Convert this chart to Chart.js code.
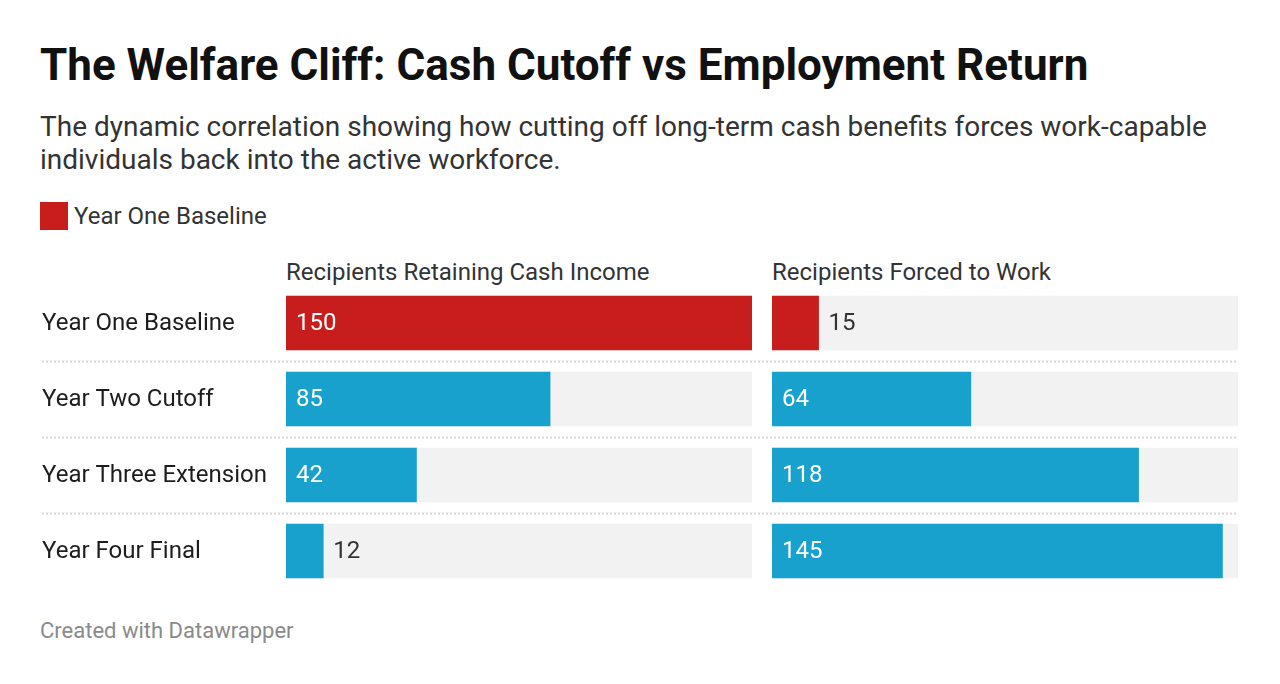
<!DOCTYPE html>
<html>
<head>
<meta charset="utf-8">
<script src="https://cdn.jsdelivr.net/npm/chart.js@4/dist/chart.umd.min.js"></script>
<style>
  body { margin: 0; background: #fff; font-family: Roboto, sans-serif; color: #1d1d1d; }
  .abs { position: absolute; white-space: nowrap; }
  #title { left: 40px; top: 40px; font-size: 44px; font-weight: 700; line-height: 50px; color: #111; }
  #subtitle { left: 40px; top: 110px; width: 1200px; font-size: 28px; line-height: 33px; color: #333; white-space: normal; }
  #legend { left: 40px; top: 202px; font-size: 24px; line-height: 28px; color: #333; }
  #legend span.sw { display: inline-block; width: 28px; height: 28px; background: #c71e1d; vertical-align: top; margin-right: 6px; }
  .ptitle { top: 258px; font-size: 24px; line-height: 28px; color: #333; }
  #footer { left: 40px; top: 618px; font-size: 22px; line-height: 26px; color: #8a8a8a; }
  canvas { position: absolute; }
</style>
</head>
<body>
<div id="title" class="abs">The Welfare Cliff: Cash Cutoff vs Employment Return</div>
<div id="subtitle" class="abs">The dynamic correlation showing how cutting off long-term cash benefits forces work-capable individuals back into the active workforce.</div>
<div id="legend" class="abs"><span class="sw"></span>Year One Baseline</div>
<div id="pt1" class="abs ptitle" style="left:286px">Recipients Retaining Cash Income</div>
<div id="pt2" class="abs ptitle" style="left:772px">Recipients Forced to Work</div>
<canvas id="left" width="720" height="304" style="left:42px;top:285px"></canvas>
<canvas id="right" width="476" height="304" style="left:762px;top:285px"></canvas>
<div id="footer" class="abs">Created with Datawrapper</div>
<script>
const categories = ['Year One Baseline', 'Year Two Cutoff', 'Year Three Extension', 'Year Four Final'];
const cashIncome = [150, 85, 42, 12];
const forcedToWork = [15, 64, 118, 145];
const axisMax = 150;

const RED = '#c71e1d';
const BLUE = '#18a1cd';
const TRACK = '#f2f2f2';
const barColors = categories.map((c, i) => i === 0 ? RED : BLUE);

// dotted row separators, category names and value labels
const rowPlugin = {
  id: 'rows',
  beforeDatasetsDraw(chart, args, opts) {
    const ctx = chart.ctx, y = chart.scales.y;
    ctx.save();
    ctx.strokeStyle = '#d6d6d6';
    ctx.lineWidth = 2;
    ctx.setLineDash([2, 2]);
    for (let i = 0; i < categories.length - 1; i++) {
      const py = Math.round((y.getPixelForTick(i) + y.getPixelForTick(i + 1)) / 2) + 0.5;
      ctx.beginPath();
      ctx.moveTo(0, py);
      ctx.lineTo(chart.width, py);
      ctx.stroke();
    }
    ctx.setLineDash([]);
    if (opts.names) {
      ctx.font = '24px Roboto';
      ctx.textBaseline = 'middle';
      ctx.fillStyle = '#1d1d1d';
      categories.forEach((c, i) => ctx.fillText(c, 0, y.getPixelForTick(i) + 1));
    }
    ctx.restore();
  },
  afterDatasetsDraw(chart) {
    const ctx = chart.ctx;
    const meta = chart.getDatasetMeta(1);
    const vals = chart.data.datasets[1].data;
    ctx.save();
    ctx.font = '24px Roboto';
    ctx.textBaseline = 'middle';
    meta.data.forEach((bar, i) => {
      const w = bar.x - bar.base;
      if (w > 60) {
        ctx.fillStyle = '#fff';
        ctx.fillText(vals[i], bar.base + 10, bar.y + 1);
      } else {
        ctx.fillStyle = '#333';
        ctx.fillText(vals[i], bar.x + 10, bar.y + 1);
      }
    });
    ctx.restore();
  }
};

function makeChart(id, values, names, padding) {
  return new Chart(document.getElementById(id), {
    type: 'bar',
    data: {
      labels: categories,
      datasets: [
        { data: categories.map(() => axisMax), backgroundColor: TRACK, order: 2, barThickness: 54 },
        { data: values, backgroundColor: barColors, order: 1, barThickness: 54 }
      ]
    },
    options: {
      indexAxis: 'y',
      responsive: false,
      animation: false,
      grouped: false,
      layout: { padding: padding },
      plugins: { legend: { display: false }, tooltip: { enabled: false }, rows: { names: names } },
      scales: {
        x: { display: false, min: 0, max: axisMax },
        y: { display: false }
      }
    },
    plugins: [rowPlugin]
  });
}

makeChart('left', cashIncome, true, { left: 244, right: 10, top: 0, bottom: 0 });
makeChart('right', forcedToWork, false, { left: 10, right: 0, top: 0, bottom: 0 });
</script>
</body>
</html>
